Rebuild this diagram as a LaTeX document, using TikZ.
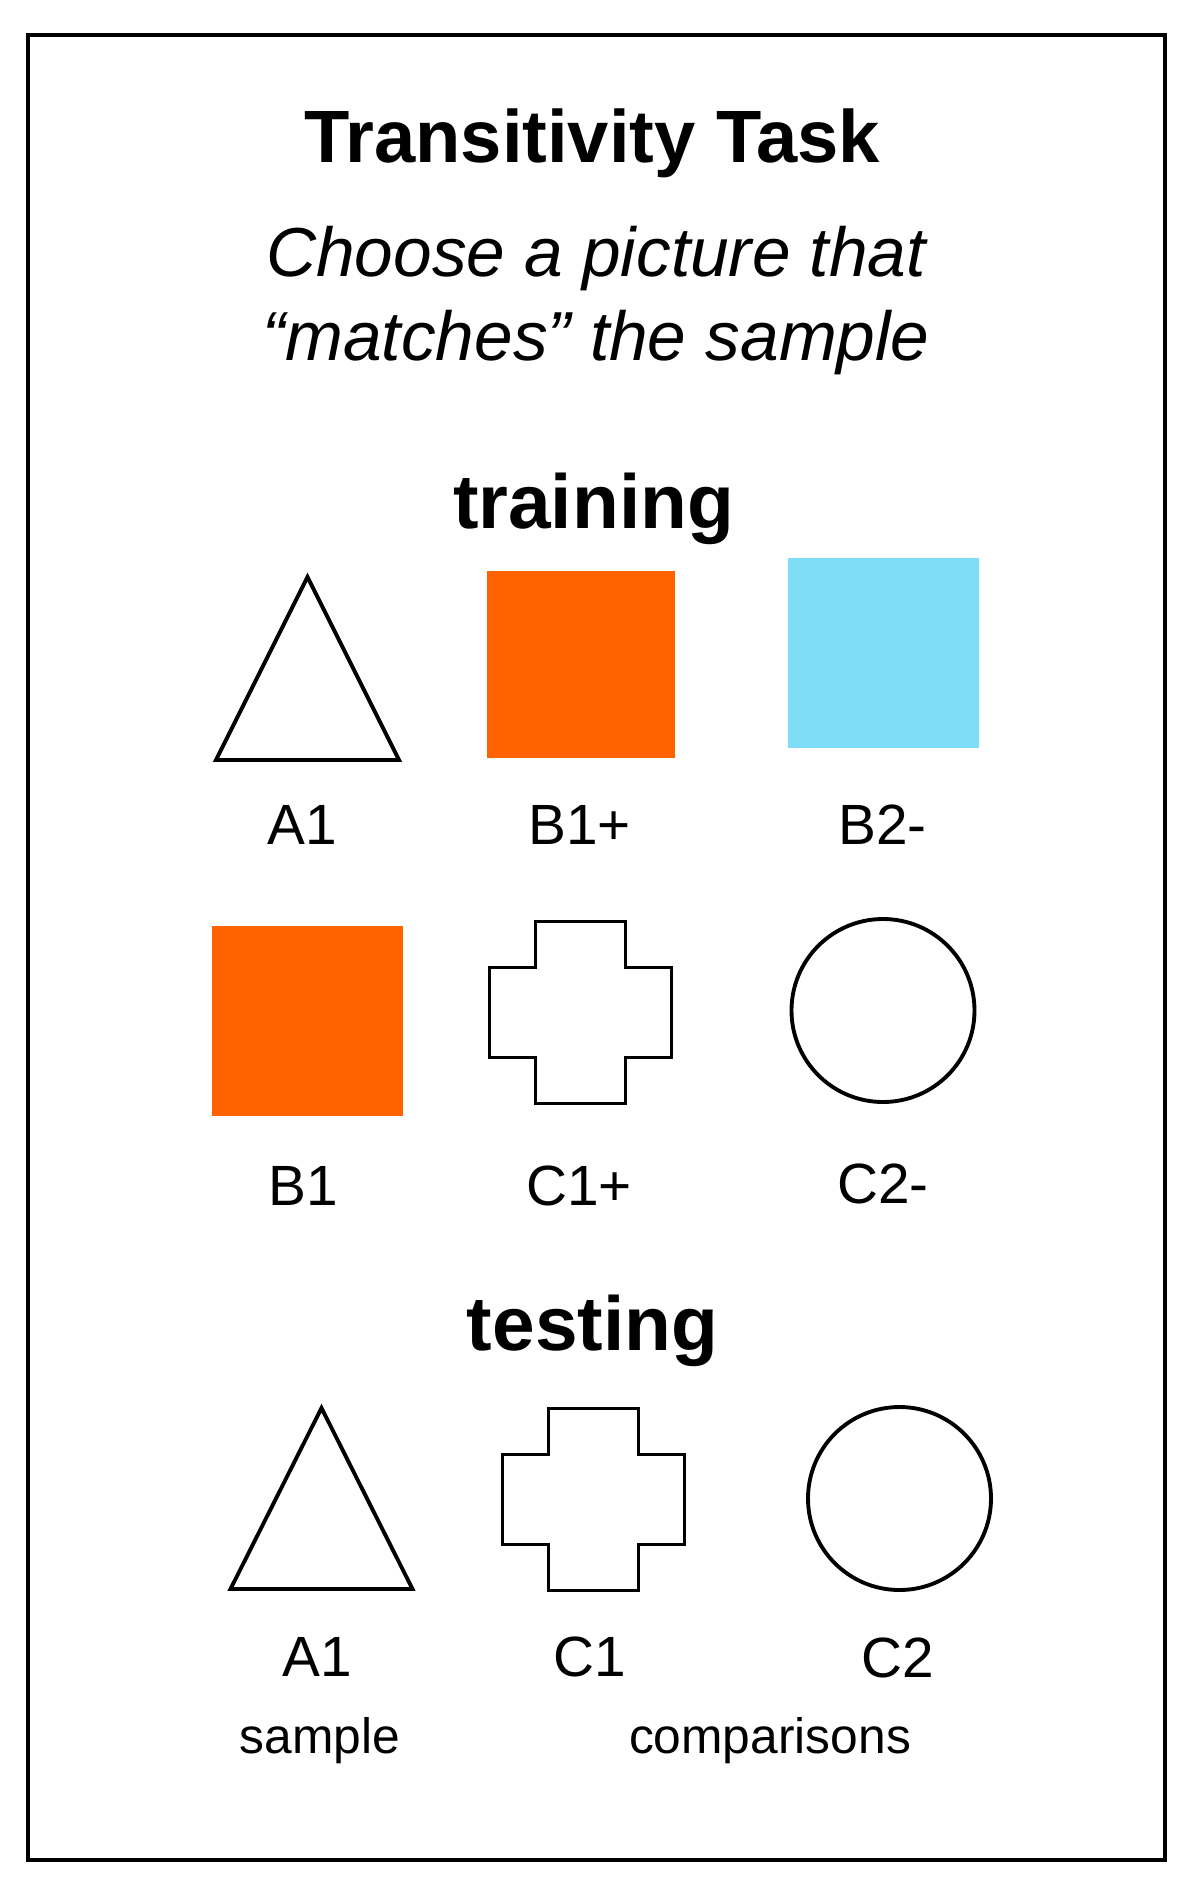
\documentclass[tikz,border=0pt]{standalone}
\usepackage{fontspec}
\setmainfont{Liberation Sans}
\definecolor{orng}{RGB}{254,99,0}
\definecolor{skyb}{RGB}{128,221,248}
\begin{document}
\begin{tikzpicture}[x=0.02cm, y=-0.02cm, line join=miter,
	shp/.style={line width=2.2pt},
	ttl/.style={anchor=base, inner sep=0pt, font=\fontsize{42.2}{50}\selectfont\bfseries},
	ins/.style={anchor=base, inner sep=0pt, font=\fontsize{39.5}{47}\selectfont\itshape},
	sec/.style={anchor=base, inner sep=0pt, font=\fontsize{43.6}{52}\selectfont\bfseries},
	lab/.style={anchor=base, inner sep=0pt, font=\fontsize{32.3}{38}\selectfont},
	sml/.style={anchor=base, inner sep=0pt, font=\fontsize{28.3}{34}\selectfont}]
	\useasboundingbox (0,0) rectangle (1200,1892);
	\draw[line width=2.55pt] (28,35) rectangle (1165,1860);
	% headings
	\node[ttl] (title) at (592,163) {Transitivity Task};
	\node[ins] (ins1) at (596,277) {Choose a picture that};
	\node[ins] (ins2) at (596,360) {“matches” the sample};
	\node[sec] (train) at (593.5,528) {training};
	\node[sec] (test) at (592.5,1350) {testing};
	% squares
	\fill[orng] (487,571) rectangle (675,758);
	\fill[skyb] (788,558) rectangle (979,748);
	\fill[orng] (212,926) rectangle (403,1116);
	% triangles
	\foreach \ax/\ay/\w/\h in {307.5/577/183/183, 321.5/1408/182/181}
	\draw[shp] (\ax,\ay) -- ++(\w/2,\h) -- ++(-\w,0) -- cycle;
	% crosses
	\foreach \cx/\cy in {580.5/1012.5, 593.5/1499.5}
	\draw[shp] (\cx-45,\cy-91) -- ++(90,0) -- ++(0,46) -- ++(46,0) -- ++(0,90) -- ++(-46,0) -- ++(0,46)
	-- ++(-90,0) -- ++(0,-46) -- ++(-46,0) -- ++(0,-90) -- ++(46,0) -- cycle;
	% circles
	\foreach \cx/\cy in {883/1010.5, 899.5/1498.5} \draw[shp] (\cx,\cy) circle (91.5);
	% labels
	\node[lab] (a1) at (302.5,844) {A1};
	\node[lab] (b1p) at (579.5,844) {B1+};
	\node[lab] (b2m) at (882.5,844) {B2-};
	\node[lab] (b1) at (303,1205) {B1};
	\node[lab] (c1p) at (579,1205) {C1+};
	\node[lab] (c2m) at (883,1203) {C2-};
	\node[lab] (a1t) at (317,1676) {A1};
	\node[lab] (c1t) at (590,1676) {C1};
	\node[lab] (c2t) at (898,1677) {C2};
	\node[sml] (smp) at (320,1753) {sample};
	\node[sml] (cmp) at (770,1753) {comparisons};
\end{tikzpicture}
\end{document}
